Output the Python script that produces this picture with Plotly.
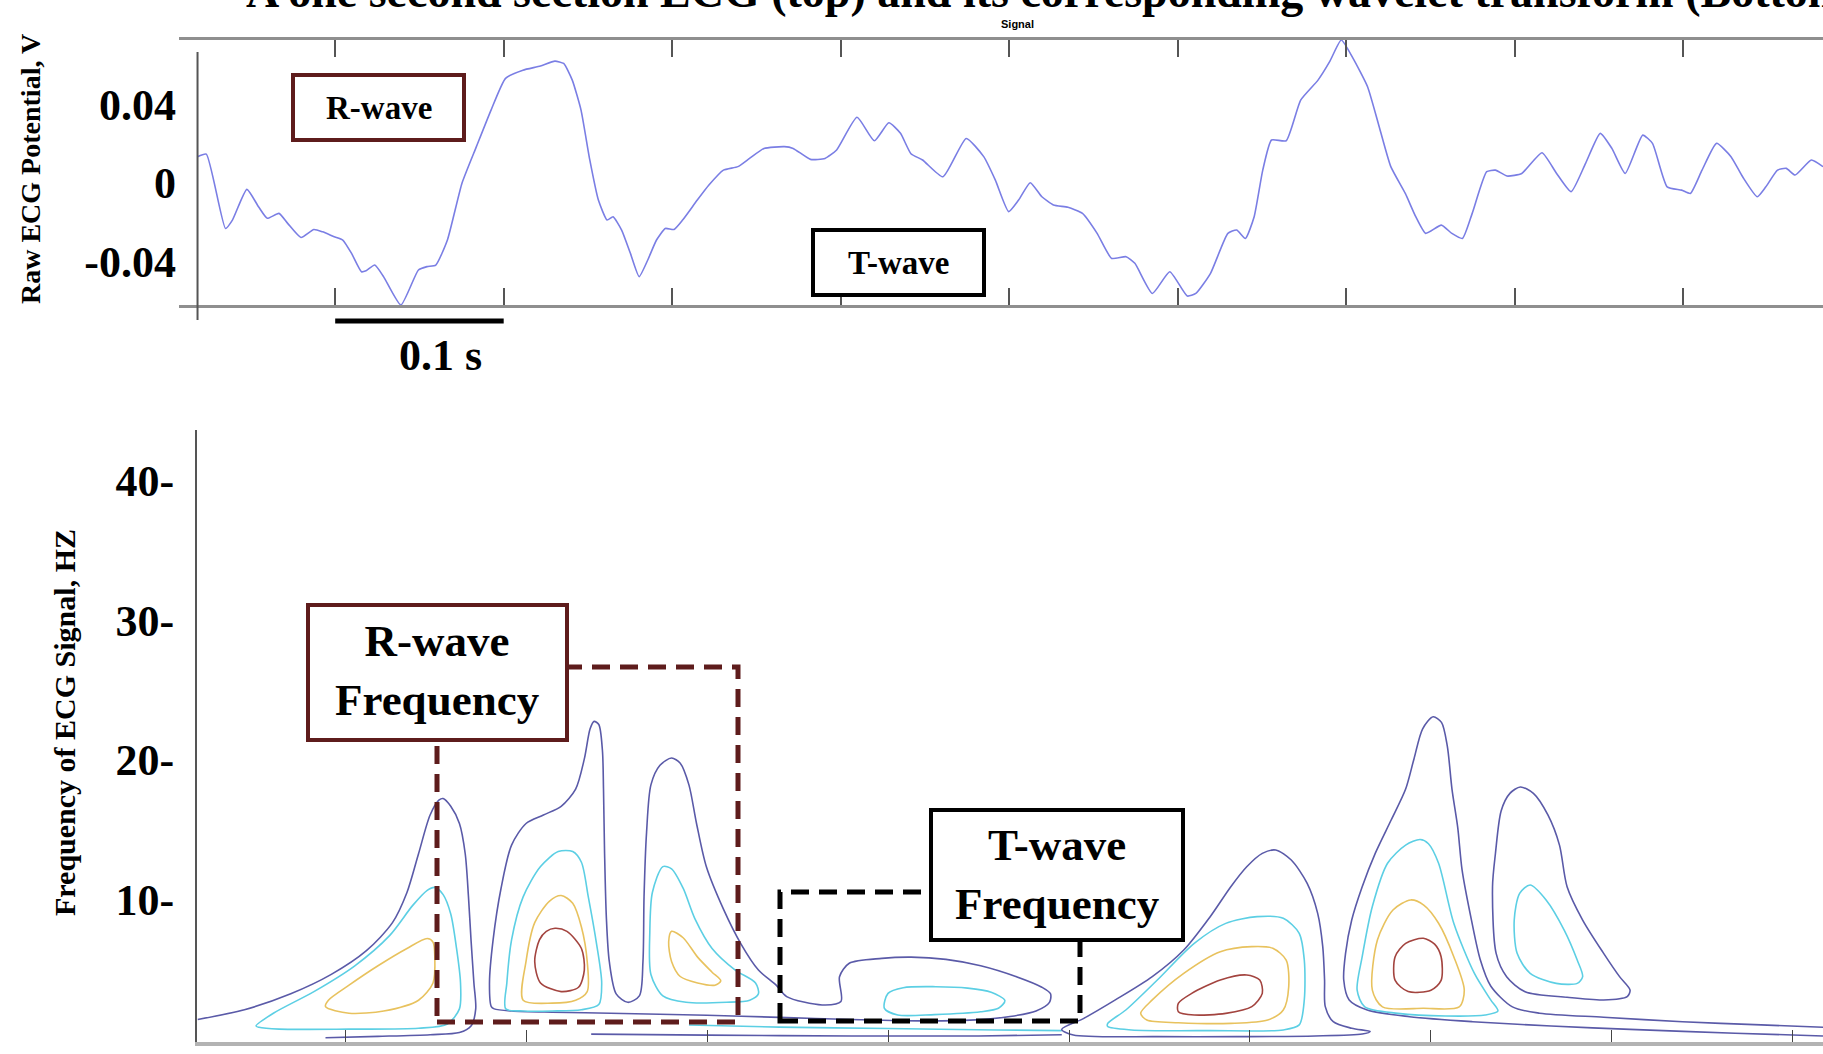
import plotly.graph_objects as go

W, H = 1823, 1054

# ---------------- ECG signal (top panel) ----------------
ecg_t_ms = [18.3, 23.5, 34.9, 39.0, 47.6, 54.5, 59.7, 66.6, 71.8, 79.7, 87.3, 92.5, 99.4, 104.5, 109.7,
            115.6, 118.3, 123.5, 128.7, 139.0, 149.4, 154.5, 159.7, 166.6, 175.2, 183.8, 192.5, 201.1,
            211.4, 221.8, 230.4, 235.6, 240.7, 245.9, 251.1, 256.2, 261.4, 264.9, 270.0, 275.2, 280.4,
            285.5, 290.7, 295.9, 301.1, 306.2, 314.9, 321.8, 330.4, 339.0, 345.9, 354.5, 366.6, 371.8,
            382.1, 390.7, 397.6, 409.7, 420.0, 428.6, 435.5, 441.7, 448.6, 460.7, 474.5, 484.9, 491.8,
            499.7, 505.6, 512.5, 519.4, 526.3, 534.9, 543.5, 552.2, 560.8, 569.4, 574.6, 585.0, 595.3,
            605.7, 610.8, 619.5, 629.8, 635.0, 640.2, 645.4, 650.5, 655.7, 664.4, 673.0, 683.3, 690.2,
            697.1, 704.1, 712.7, 719.6, 726.5, 735.1, 741.3, 747.2, 756.5, 762.7, 769.0, 774.8, 783.4,
            788.6, 795.5, 804.2, 816.2, 824.9, 833.5, 842.1, 850.8, 857.7, 865.6, 876.0, 881.8, 890.5,
            899.1, 904.3, 911.2, 919.8, 928.4, 935.3, 944.0, 949.1, 956.0, 961.2, 966.4, 976.1, 983.0]
ecg_v = [0.0135, 0.0148, -0.0232, -0.0189, -0.0032, -0.0121, -0.0180, -0.0155, -0.0206, -0.0278, -0.0237,
         -0.0249, -0.0274, -0.0291, -0.0359, -0.0453, -0.0448, -0.0419, -0.0478, -0.0623, -0.0444, -0.0427,
         -0.0419, -0.0291, -0.0002, 0.0186, 0.0373, 0.0535, 0.0577, 0.0598, 0.0623, 0.0611, 0.0526, 0.0373,
         0.0118, -0.0087, -0.0189, -0.0172, -0.0240, -0.0359, -0.0478, -0.0393, -0.0291, -0.0232, -0.0237,
         -0.0189, -0.0087, -0.0010, 0.0066, 0.0084, 0.0126, 0.0177, 0.0186, 0.0177, 0.0121, 0.0126, 0.0169,
         0.0336, 0.0216, 0.0308, 0.0254, 0.0150, 0.0118, 0.0032, 0.0228, 0.0135, 0.0015, -0.0146, -0.0087,
         0.0002, -0.0070, -0.0112, -0.0124, -0.0155, -0.0257, -0.0385, -0.0376, -0.0410, -0.0564, -0.0453,
         -0.0577, -0.0564, -0.0461, -0.0257, -0.0240, -0.0283, -0.0172, 0.0066, 0.0220, 0.0216, 0.0424,
         0.0526, 0.0620, 0.0731, 0.0637, 0.0492, 0.0288, 0.0084, -0.0053, -0.0172, -0.0257, -0.0215,
         -0.0257, -0.0283, -0.0155, 0.0058, 0.0066, 0.0036, 0.0049, 0.0155, 0.0049, -0.0044, 0.0101,
         0.0254, 0.0177, 0.0049, 0.0245, 0.0203, -0.0019, -0.0036, -0.0053, 0.0066, 0.0203, 0.0135,
         0.0032, -0.0070, -0.0019, 0.0066, 0.0075, 0.0041, 0.0118, 0.0084]
ecg_t = [t / 1000.0 for t in ecg_t_ms]

top_ytick_vals = [-0.04, 0, 0.04]
top_ytick_text = ["-0.04", "0", "0.04"]

# ---------------- Wavelet contours (bottom panel) ----------------
# x: sample index, y: frequency (Hz)
a_outer_s = [9.3, 22.2, 35.0, 46.2, 55.9, 63.1, 67.1, 70.3, 73.5, 76.0, 77.1, 79.2, 81.6, 83.2, 84.1, 84.8,
             85.6, 86.1, 84.8, 81.6, 73.5, 59.1, 44.6]
a_outer_f = [1.40, 2.10, 3.24, 4.63, 6.33, 8.34, 10.50, 13.28, 16.06, 17.14, 17.24, 16.68, 15.45, 13.28,
             10.19, 7.11, 4.02, 2.16, 0.93, 0.46, 0.31, 0.19, 0.09]
a_cyan_s = [25.4, 30.2, 41.4, 52.7, 62.3, 68.7, 72.7, 74.8, 77.1, 79.2, 80.8, 81.9, 81.6, 78.3, 70.3, 51.1,
            31.8, 26.2, 25.4]
a_cyan_f = [0.93, 1.85, 3.40, 5.25, 7.41, 9.58, 10.66, 10.87, 10.35, 8.96, 6.49, 4.02, 2.16, 1.08, 0.77,
            0.71, 0.71, 0.84, 0.93]
a_yel_s = [44.6, 51.1, 60.7, 70.3, 74.3, 74.8, 74.3, 72.7, 67.1, 59.1, 51.1, 45.4, 44.6]
a_yel_f = [2.32, 1.85, 2.01, 2.78, 4.02, 5.87, 6.95, 7.20, 6.49, 5.25, 3.86, 2.78, 2.32]

bcd_outer_s = [90.4, 89.9, 90.9, 93.1, 96.0, 100.0, 104.8, 109.7, 113.7, 116.1, 117.7, 118.8, 120.1, 121.1,
               121.4, 121.7, 122.2, 123.0, 124.9, 128.1, 131.3, 132.3, 132.6, 133.3, 134.5, 137.0, 140.2,
               142.6, 145.0, 147.1, 149.8, 154.6, 159.4, 164.2, 169.1, 172.0, 181.8, 187.0, 186.6, 189.3,
               198.3, 206.4, 216.0, 225.6, 235.3, 242.5, 244.9, 244.6, 240.9, 233.7, 225.6, 210.0, 190.0,
               170.0, 150.0, 123.3, 107.2, 96.0, 91.2, 90.4]
bcd_outer_f = [2.32, 4.02, 7.11, 10.81, 13.90, 15.45, 16.06, 16.68, 17.92, 20.08, 22.24, 22.77, 22.55, 20.70,
               17.92, 13.28, 8.65, 5.56, 3.24, 2.63, 3.09, 5.56, 10.19, 14.83, 18.22, 19.62, 20.14, 19.77,
               18.22, 15.45, 12.36, 9.27, 6.80, 4.94, 3.86, 3.04, 2.44, 2.68, 4.47, 5.43, 5.78, 5.87, 5.71,
               5.25, 4.48, 3.71, 3.24, 2.63, 2.01, 1.61, 1.39, 1.30, 1.40, 1.55, 1.70, 1.85, 1.92, 2.01, 2.16,
               2.32]
b_cyan_s = [94.4, 94.7, 96.0, 99.2, 104.0, 108.9, 112.9, 115.3, 117.2, 119.3, 120.9, 120.1, 115.3, 107.2,
            99.2, 94.4]
b_cyan_f = [2.16, 4.02, 7.11, 10.19, 12.36, 13.44, 13.44, 12.67, 10.19, 7.11, 4.02, 2.47, 2.10, 2.01, 2.01,
            2.16]
b_yel_s = [99.2, 100.0, 102.4, 106.5, 109.7, 112.9, 115.3, 116.9, 116.9, 113.7, 107.2, 99.2]
b_yel_f = [2.78, 5.56, 8.34, 9.89, 10.29, 9.73, 8.03, 5.56, 3.40, 2.78, 2.57, 2.78]
b_red_s = [108.0, 111.3, 115.3, 116.1, 114.5, 109.7, 104.0, 102.4, 103.7, 105.6, 108.0]
b_red_f = [7.94, 7.72, 6.49, 4.94, 3.71, 3.40, 4.02, 5.56, 7.11, 7.72, 7.94]
c_cyan_s = [137.8, 140.2, 143.4, 146.6, 151.4, 157.8, 163.4, 164.2, 161.8, 155.4, 144.2, 137.8, 134.5,
            134.2, 134.9, 137.8]
c_cyan_f = [12.36, 12.20, 10.81, 8.65, 6.49, 4.94, 4.02, 3.24, 2.78, 2.63, 2.63, 3.09, 4.63, 7.72, 10.50,
            12.36]
c_yel_s = [140.2, 143.4, 147.4, 151.4, 153.8, 152.2, 147.4, 142.6, 140.2, 139.4, 140.2]
c_yel_f = [7.72, 7.26, 5.87, 4.79, 4.17, 3.86, 4.02, 4.48, 5.56, 6.95, 7.72]
d_cyan_s = [199.0, 200.0, 204.2, 213.2, 222.0, 228.5, 232.3, 230.5, 225.6, 212.8, 202.7, 199.0]
d_cyan_f = [2.20, 3.27, 3.68, 3.75, 3.65, 3.35, 2.75, 2.20, 1.95, 1.75, 1.72, 2.20]
low_cyan_s = [145.0, 170.0, 200.0, 230.0, 248.0]
low_cyan_f = [1.00, 0.85, 0.75, 0.65, 0.60]

e_outer_s = [248.0, 254.1, 262.8, 273.0, 281.7, 289.0, 294.7, 299.1, 303.4, 307.1, 311.4, 315.8, 318.7,
             320.1, 320.6, 320.8, 323.0, 328.1, 333.2, 331.0, 318.0, 296.2, 274.4, 251.2, 248.0]
e_outer_f = [0.69, 1.48, 2.80, 4.47, 6.38, 8.77, 10.92, 12.35, 13.31, 13.55, 12.83, 11.16, 9.01, 6.62, 4.23,
             2.32, 1.24, 0.77, 0.53, 0.36, 0.22, 0.17, 0.17, 0.29, 0.69]
e_cyan_s = [260.7, 265.7, 274.4, 284.6, 293.3, 302.0, 309.2, 313.6, 315.0, 315.0, 313.6, 309.2, 289.0, 267.2,
            260.7, 260.7]
e_cyan_f = [1.12, 2.08, 4.23, 6.86, 8.29, 8.77, 8.65, 7.58, 5.66, 2.80, 1.01, 0.65, 0.60, 0.65, 0.89, 1.12]
e_yel_s = [269.8, 273.0, 281.7, 291.8, 300.5, 306.3, 310.0, 310.7, 309.2, 304.9, 294.7, 280.2, 271.5, 269.8]
e_yel_f = [1.84, 2.80, 4.71, 6.26, 6.62, 6.50, 5.66, 3.75, 2.08, 1.36, 1.12, 1.17, 1.36, 1.84]
e_red_s = [280.2, 283.9, 291.8, 299.1, 302.7, 303.4, 300.5, 293.3, 284.6, 280.2, 280.2]
e_red_f = [2.56, 3.27, 4.23, 4.59, 4.23, 3.27, 2.32, 1.84, 1.72, 1.96, 2.56]

f_outer_s = [458.3, 434.0, 405.0, 383.2, 361.5, 344.1, 332.4, 327.4, 325.9, 326.4, 328.1, 331.0, 334.6,
             339.0, 343.0, 345.3, 347.7, 350.6, 352.9, 354.5, 355.8, 357.4, 358.6, 361.2, 363.6, 366.5,
             372.5, 380.0, 397.7, 419.5, 441.2, 458.3]
f_outer_f = [0.22, 0.41, 0.69, 0.93, 1.24, 1.60, 2.08, 2.80, 4.23, 6.14, 8.53, 10.92, 13.31, 15.70, 17.92,
             20.08, 22.24, 23.10, 22.70, 21.01, 17.92, 15.14, 12.10, 8.50, 5.70, 3.80, 2.30, 1.85, 1.56,
             1.24, 1.01, 0.84]
f_cyan_s = [347.0, 349.3, 352.1, 356.3, 362.0, 366.5, 368.5, 365.0, 354.0, 340.9, 331.7, 329.6, 331.0,
            333.8, 338.0, 343.0, 347.0]
f_cyan_f = [14.30, 14.00, 12.60, 8.30, 4.70, 2.80, 2.00, 1.72, 1.65, 1.84, 2.30, 3.50, 5.90, 9.50, 12.60,
            13.90, 14.30]
f_yel_s = [344.4, 348.0, 352.1, 356.3, 359.2, 357.8, 347.9, 336.6, 333.8, 335.2, 339.5, 344.4]
f_yel_f = [9.97, 9.60, 8.30, 5.90, 3.50, 2.30, 2.20, 2.30, 3.50, 7.10, 9.25, 9.97]
f_red_s = [347.9, 351.0, 352.8, 352.8, 350.0, 343.7, 340.1, 340.1, 343.0, 347.9]
f_red_f = [7.22, 6.80, 5.90, 4.20, 3.50, 3.40, 4.20, 5.90, 6.86, 7.22]
g_outer_s = [374.7, 378.3, 382.3, 385.5, 387.6, 391.9, 397.7, 402.1, 405.0, 404.2, 397.7, 387.6, 376.0,
             370.9, 368.0, 367.0, 367.8, 369.4, 371.8, 374.7]
g_outer_f = [18.07, 17.61, 16.06, 13.90, 10.92, 8.53, 6.14, 4.47, 3.51, 3.04, 2.80, 2.99, 3.39, 4.47, 6.14,
             10.92, 13.28, 16.37, 17.61, 18.07]
g_cyan_s = [377.4, 381.8, 386.8, 390.4, 391.9, 390.4, 384.6, 377.4, 373.8, 373.0, 374.5, 377.4]
g_cyan_f = [11.04, 9.97, 7.81, 5.66, 4.47, 3.99, 3.99, 4.71, 6.14, 8.53, 10.44, 11.04]
low_outer_s = [118.0, 150.0, 190.0, 225.0, 248.0]
low_outer_f = [0.35, 0.28, 0.22, 0.22, 0.30]

bot_ytick_vals = [0, 10, 20, 30, 40]
bot_ytick_text = ["0-", "10-", "20-", "30-", "40-"]

# ---------------- styling ----------------
C_ECG = "#7a7ee4"
C_OUT = "#5a5aa8"
C_CYAN = "#5ccfe4"
C_YEL = "#e8c25e"
C_RED = "#a3443f"
MAROON = "#5e1c1c"
SERIF = "Liberation Serif, Times New Roman, serif"


def px(x):
    return x / W


def py(y):
    return 1 - y / H


fig = go.Figure()
fig.add_trace(go.Scatter(x=ecg_t, y=ecg_v, mode="lines", xaxis="x", yaxis="y",
                         line=dict(color=C_ECG, width=1.6, shape="spline", smoothing=0.5),
                         hoverinfo="skip", showlegend=False))

contours = [
    (a_outer_s, a_outer_f, C_OUT), (a_cyan_s, a_cyan_f, C_CYAN), (a_yel_s, a_yel_f, C_YEL),
    (bcd_outer_s, bcd_outer_f, C_OUT), (b_cyan_s, b_cyan_f, C_CYAN), (b_yel_s, b_yel_f, C_YEL),
    (b_red_s, b_red_f, C_RED), (c_cyan_s, c_cyan_f, C_CYAN), (c_yel_s, c_yel_f, C_YEL),
    (d_cyan_s, d_cyan_f, C_CYAN), (low_cyan_s, low_cyan_f, C_CYAN), (low_outer_s, low_outer_f, C_OUT),
    (e_outer_s, e_outer_f, C_OUT), (e_cyan_s, e_cyan_f, C_CYAN), (e_yel_s, e_yel_f, C_YEL),
    (e_red_s, e_red_f, C_RED), (f_outer_s, f_outer_f, C_OUT), (f_cyan_s, f_cyan_f, C_CYAN),
    (f_yel_s, f_yel_f, C_YEL), (f_red_s, f_red_f, C_RED), (g_outer_s, g_outer_f, C_OUT),
    (g_cyan_s, g_cyan_f, C_CYAN),
]
for xs, ys, col in contours:
    fig.add_trace(go.Scatter(x=xs, y=ys, mode="lines", xaxis="x2", yaxis="y2",
                             line=dict(color=col, width=1.6, shape="spline", smoothing=0.8),
                             hoverinfo="skip", showlegend=False))

DASH = "18px,10px"
shapes = [
    # top panel left vertical axis line
    dict(type="line", xref="x", yref="paper", x0=0.0183, x1=0.0183, y0=py(320), y1=py(52),
         line=dict(color="#555555", width=2)),
    # scale bar 0.1 s
    dict(type="line", xref="x", yref="paper", x0=0.1, x1=0.2, y0=py(321), y1=py(321),
         line=dict(color="black", width=5)),
    # top annotation boxes
    dict(type="rect", xref="paper", yref="paper", x0=px(293), x1=px(464), y0=py(140), y1=py(75),
         line=dict(color=MAROON, width=4), fillcolor="white", layer="above"),
    dict(type="rect", xref="paper", yref="paper", x0=px(813), x1=px(984), y0=py(295), y1=py(230),
         line=dict(color="black", width=4), fillcolor="white", layer="above"),
    # dashed regions bottom
    dict(type="rect", xref="paper", yref="paper", x0=px(437), x1=px(738), y0=py(1022), y1=py(667),
         line=dict(color=MAROON, width=5, dash=DASH), layer="above"),
    dict(type="rect", xref="paper", yref="paper", x0=px(780), x1=px(1080), y0=py(1021), y1=py(892),
         line=dict(color="black", width=5, dash=DASH), layer="above"),
    # label boxes bottom
    dict(type="rect", xref="paper", yref="paper", x0=px(308), x1=px(567), y0=py(740), y1=py(605),
         line=dict(color=MAROON, width=4), fillcolor="white", layer="above"),
    dict(type="rect", xref="paper", yref="paper", x0=px(931), x1=px(1183), y0=py(940), y1=py(810),
         line=dict(color="black", width=4), fillcolor="white", layer="above"),
]


def ann(text, x, y, size, xref="paper", angle=0, xanchor="center", yanchor="middle", family=SERIF):
    return dict(text=text, x=x, y=y, xref=xref, yref="paper", showarrow=False, textangle=angle,
                xanchor=xanchor, yanchor=yanchor, font=dict(family=family, size=size, color="black"))


annotations = [
    ann("<b>A one second section ECG (top) and its corresponding wavelet transform (Bottom)</b>",
        px(244), py(19), 46, xanchor="left", yanchor="bottom"),
    ann("<b>Signal</b>", px(1017), py(24), 11, family="Liberation Sans Narrow, Arial Narrow, Arial, sans-serif"),
    ann("<b>R-wave</b>", px(378.5), py(108), 33),
    ann("<b>T-wave</b>", px(898.5), py(263), 33),
    ann("<b>0.1 s</b>", px(440), py(355), 44),
    ann("<b>Raw ECG Potential, V</b>", px(30), py(169), 28, angle=-90),
    ann("<b>R-wave<br>Frequency</b>", px(437.5), py(670), 45),
    ann("<b>T-wave<br>Frequency</b>", px(1057), py(874), 45),
    ann("<b>Frequency of ECG Signal, HZ</b>", px(64), py(723), 30, angle=-90),
]

fig.update_layout(
    width=W, height=H, margin=dict(l=0, r=0, t=0, b=0),
    paper_bgcolor="white", plot_bgcolor="white", showlegend=False,
    xaxis=dict(domain=[px(179), 1], range=[0.0073, 0.983], anchor="y", showline=True,
               linecolor="#8f8f8f", linewidth=2.5, mirror="ticks", ticks="inside", ticklen=17,
               tickwidth=1.5, tickcolor="#555555", tick0=0, dtick=0.1, showticklabels=False,
               showgrid=False, zeroline=False),
    yaxis=dict(domain=[py(305), py(40)], range=[-0.0623, 0.0731], anchor="x",
               tickvals=top_ytick_vals, ticktext=["<b>%s</b>" % s for s in top_ytick_text],
               tickfont=dict(family=SERIF, size=44, color="black"), ticks="", showline=False,
               showgrid=False, zeroline=False, ticklabelstandoff=2),
    xaxis2=dict(domain=[px(197), 1], range=[9.1, 458.3], anchor="y2", showline=True,
                linecolor="#b3b3b3", linewidth=4, ticks="inside", ticklen=12, tickwidth=1.2,
                tickcolor="#444444", tick0=0, dtick=50, showticklabels=False, showgrid=False,
                zeroline=False),
    yaxis2=dict(domain=[py(1042), py(430)], range=[-0.215, 43.66], anchor="x2",
                tickvals=bot_ytick_vals, ticktext=["<b>%s</b>" % s for s in bot_ytick_text],
                tickfont=dict(family=SERIF, size=44, color="black"), ticks="", showline=True,
                linecolor="#555555", linewidth=2, showgrid=False, zeroline=False,
                ticklabelstandoff=12),
    shapes=shapes, annotations=annotations,
)

fig.write_html("out.html")
